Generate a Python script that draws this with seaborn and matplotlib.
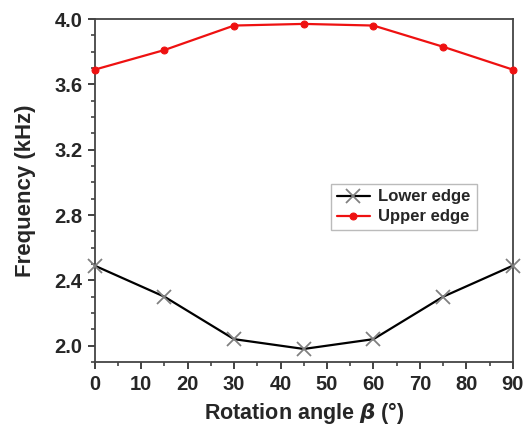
import matplotlib
matplotlib.use("Agg")
import matplotlib.pyplot as plt
from matplotlib.ticker import MultipleLocator, FormatStrFormatter
import seaborn as sns
import pandas as pd

angles = [0, 15, 30, 45, 60, 75, 90]
lower_edge = [2.49, 2.30, 2.04, 1.98, 2.04, 2.30, 2.49]
upper_edge = [3.69, 3.81, 3.96, 3.97, 3.96, 3.83, 3.69]

sns.set_theme(style="ticks")
plt.rcParams['font.family'] = ['Liberation Sans', 'DejaVu Sans']
plt.rcParams['font.weight'] = 'bold'

fig = plt.figure(figsize=(5.26, 4.32), dpi=100)
ax = fig.add_axes([0.180, 0.162, 0.795, 0.794])

df_low = pd.DataFrame({"angle": angles, "freq": lower_edge})
df_up = pd.DataFrame({"angle": angles, "freq": upper_edge})

sns.lineplot(data=df_low, x="angle", y="freq", ax=ax, color="black", lw=1.6,
             marker="x", markersize=10, markeredgecolor="#808080",
             markeredgewidth=1.3, label="Lower edge", clip_on=False, zorder=3)
sns.lineplot(data=df_up, x="angle", y="freq", ax=ax, color="#ee1111", lw=1.6,
             marker="o", markersize=5, markeredgecolor="#ee1111",
             label="Upper edge", clip_on=False, zorder=3)

ax.set_xlim(0, 90)
ax.set_ylim(1.9, 4.0)
ax.xaxis.set_major_locator(MultipleLocator(10))
ax.xaxis.set_minor_locator(MultipleLocator(5))
ax.yaxis.set_major_locator(MultipleLocator(0.4))
ax.yaxis.set_minor_locator(MultipleLocator(0.1))
ax.yaxis.set_major_formatter(FormatStrFormatter('%.1f'))

ax.tick_params(which="major", direction="out", length=5, width=1.3,
               color="#333333", labelsize=14.5, pad=4)
ax.tick_params(which="minor", direction="out", length=3, width=1.1, color="#333333")
ax.tick_params(top=False, right=False, which="both")
for lab in ax.get_xticklabels() + ax.get_yticklabels():
    lab.set_fontweight("bold")

for sp in ax.spines.values():
    sp.set_color("#444444")
    sp.set_linewidth(1.3)
    sp.set_visible(True)

ax.set_xlabel("Rotation angle $\\boldsymbol{\\beta}$ (°)", fontsize=15.5, fontweight="bold", labelpad=5)
ax.set_ylabel("Frequency (kHz)", fontsize=16, fontweight="bold", labelpad=13)

leg = ax.legend(loc="upper left", bbox_to_anchor=(0.565, 0.52), frameon=True,
                fancybox=False, edgecolor="#aaaaaa", fontsize=12,
                handlelength=2.0, handletextpad=0.5, borderpad=0.35,
                labelspacing=0.3, borderaxespad=0)
leg.get_frame().set_linewidth(1.0)
for t in leg.get_texts():
    t.set_fontweight("bold")

fig.savefig("out.png", dpi=100)
